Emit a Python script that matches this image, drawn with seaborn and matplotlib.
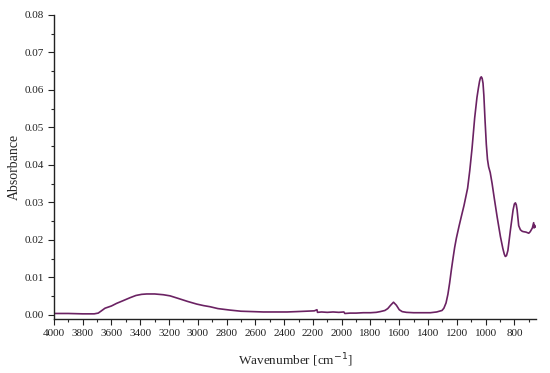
import numpy as np
import pandas as pd
import matplotlib
matplotlib.use("Agg")
import matplotlib.pyplot as plt
import seaborn as sns
from matplotlib.ticker import MultipleLocator, FormatStrFormatter

# ==================================
# Data
# ==================================

wavenumber = [4000, 3900, 3800, 3720, 3692, 3670, 3645, 3600, 3564, 3520, 3471,
              3430, 3390, 3355, 3300, 3240, 3193, 3135, 3070, 3007, 2960, 2915,
              2860, 2776, 2700, 2620, 2544, 2450, 2380, 2312, 2250, 2190, 2172,
              2168, 2140, 2100, 2060, 2020, 1985, 1978, 1941, 1900, 1850, 1800,
              1760, 1732, 1700, 1680, 1660, 1640, 1620, 1600, 1580, 1550, 1500,
              1450, 1400, 1384, 1340, 1303, 1290, 1275, 1262, 1250, 1238, 1226,
              1215, 1203, 1185, 1169, 1150, 1125, 1110, 1094, 1076, 1060, 1050,
              1042, 1036, 1030, 1024, 1018, 1012, 1004, 995, 987, 979, 968, 955,
              940, 920, 897, 880, 870, 863, 855, 845, 828, 809, 800, 793, 787,
              781, 770, 758, 745, 735, 720, 700, 690, 675, 666, 663, 661, 655,
              650]

absorbance = [0.0004, 0.0004, 0.0003, 0.0003, 0.0005, 0.0011, 0.0018, 0.0024,
              0.0031, 0.0038, 0.0046, 0.0052, 0.0055, 0.0056, 0.0056, 0.0054,
              0.0051, 0.0044, 0.0036, 0.0029, 0.0025, 0.0022, 0.0017, 0.0013,
              0.0010, 0.0009, 0.0008, 0.0008, 0.0008, 0.0009, 0.0010, 0.0011,
              0.0014, 0.0007, 0.0008, 0.0007, 0.0008, 0.0007, 0.0008, 0.0004,
              0.0005, 0.0005, 0.0006, 0.0006, 0.0007, 0.0009, 0.0012, 0.0017,
              0.0026, 0.0034, 0.0026, 0.0014, 0.0009, 0.0007, 0.0006, 0.0006,
              0.0006, 0.0006, 0.0008, 0.0012, 0.0018, 0.0032, 0.0055, 0.0085,
              0.0120, 0.0152, 0.0180, 0.0205, 0.0236, 0.0262, 0.0292, 0.0338,
              0.0385, 0.0445, 0.0525, 0.0580, 0.0605, 0.0623, 0.0632, 0.0635,
              0.0631, 0.0618, 0.0585, 0.0520, 0.0455, 0.0415, 0.0395, 0.0380,
              0.0351, 0.0312, 0.0262, 0.0209, 0.0177, 0.0162, 0.0156, 0.0158,
              0.0172, 0.0225, 0.0280, 0.0296, 0.0299, 0.0294, 0.0280, 0.0238,
              0.0227, 0.0223, 0.0222, 0.0221, 0.0218, 0.0222, 0.0232, 0.0246,
              0.0232, 0.0240, 0.0234, 0.0236]

df = pd.DataFrame({"wavenumber": wavenumber, "absorbance": absorbance})

# ==================================
# Plot
# ==================================

sns.set_style("ticks")
plt.rcParams["font.family"] = ["Liberation Serif", "DejaVu Serif"]

fig = plt.figure(figsize=(5.5, 3.73), dpi=100)
ax = fig.add_axes([0.098, 0.144, 0.877, 0.816])

sns.lineplot(data=df, x="wavenumber", y="absorbance", sort=False,
             estimator=None, color="#6b2263", linewidth=1.2, ax=ax)

ax.set_xlim(4000, 648)
ax.set_ylim(-0.00115, 0.08)

ax.xaxis.set_minor_locator(MultipleLocator(100))
ax.yaxis.set_minor_locator(MultipleLocator(0.005))
ax.yaxis.set_major_formatter(FormatStrFormatter("%.2f"))
ax.set_yticks(np.arange(0, 0.0801, 0.01))
ax.set_xticks(np.arange(800, 4001, 200))

ax.tick_params(which="major", direction="out", length=4, width=0.8,
               labelsize=8, colors="#222222", pad=3)
ax.tick_params(which="minor", direction="out", length=2, width=0.8)

ax.set_xlabel("Wavenumber [cm$^{-1}$]", fontsize=9.5, labelpad=10)
ax.set_ylabel("Absorbance", fontsize=10, labelpad=3)

sns.despine(ax=ax)
for s in ["left", "bottom"]:
    ax.spines[s].set_linewidth(1.0)
    ax.spines[s].set_color("#222222")

fig.savefig("out.png", dpi=100)
